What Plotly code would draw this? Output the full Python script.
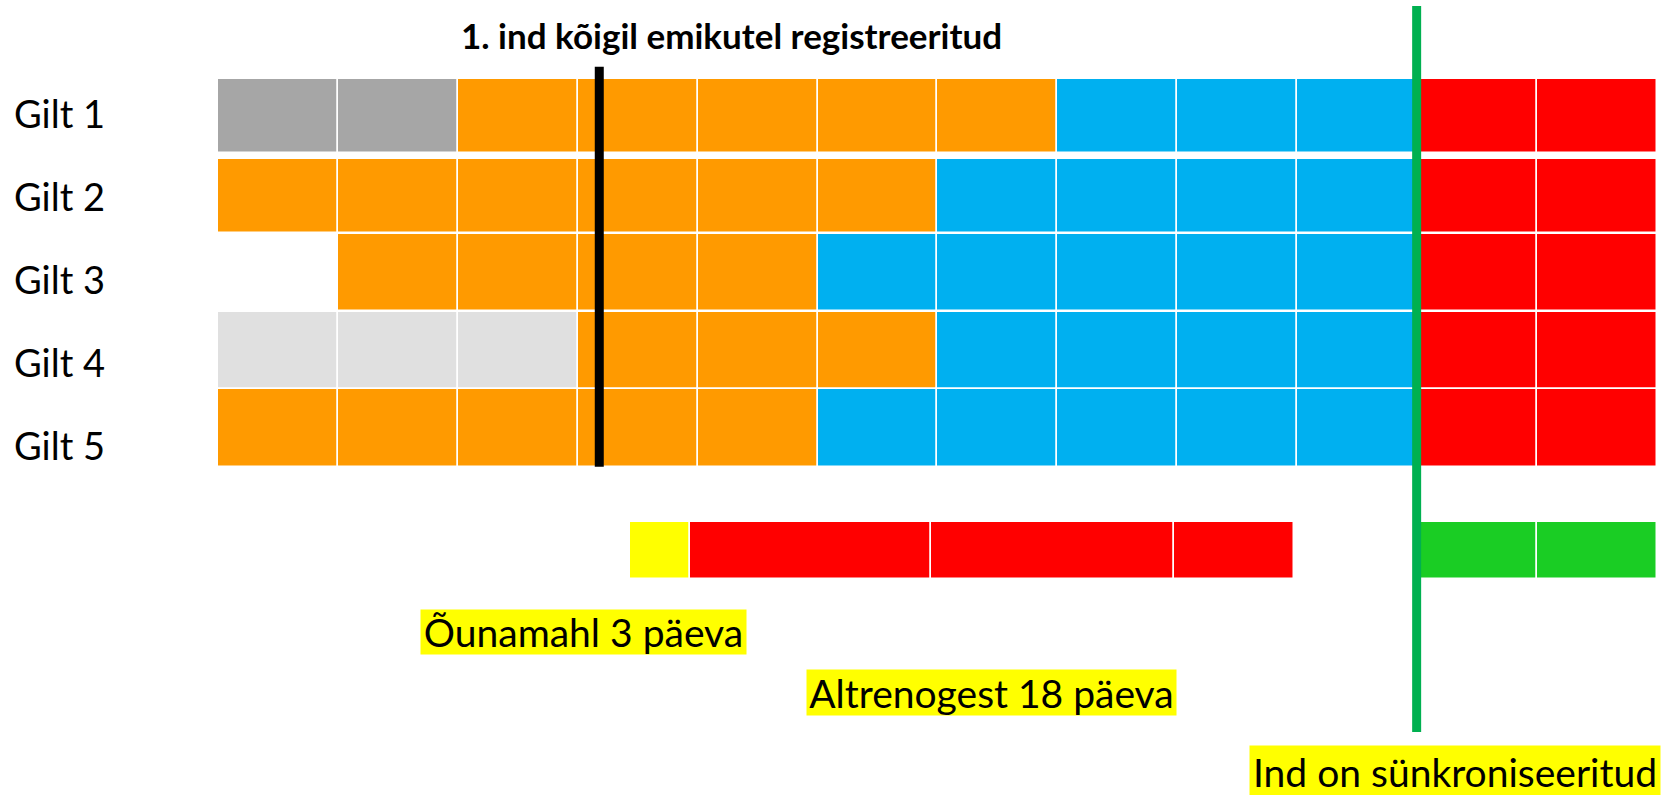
import plotly.graph_objects as go

# ---------------- data ----------------
gilts = ["Gilt 1", "Gilt 2", "Gilt 3", "Gilt 4", "Gilt 5"]

# state of each gilt in each of 12 consecutive periods (None = no record)
gilt1 = ["cycle_old", "cycle_old", "pre", "pre", "pre", "pre", "pre", "treat", "treat", "treat", "sync", "sync"]
gilt2 = ["pre", "pre", "pre", "pre", "pre", "pre", "treat", "treat", "treat", "treat", "sync", "sync"]
gilt3 = [None, "pre", "pre", "pre", "pre", "treat", "treat", "treat", "treat", "treat", "sync", "sync"]
gilt4 = ["cycle_new", "cycle_new", "cycle_new", "pre", "pre", "pre", "treat", "treat", "treat", "treat", "sync", "sync"]
gilt5 = ["pre", "pre", "pre", "pre", "pre", "treat", "treat", "treat", "treat", "treat", "sync", "sync"]
gilt_states = [gilt1, gilt2, gilt3, gilt4, gilt5]

state_colors = {
    "cycle_old": "#A6A6A6",
    "cycle_new": "#E0E0E0",
    "pre": "#FF9A00",
    "treat": "#00B0F0",
    "sync": "#FF0000",
}

# treatment timeline (in period units)
treat_names = ["Õunamahl", "Altrenogest", "Altrenogest", "Altrenogest", "Sünkroniseeritud", "Sünkroniseeritud"]
treat_start = [3.44, 3.94, 5.95, 7.97, 10.0, 11.0]
treat_len = [0.50, 2.01, 2.02, 1.00, 1.0, 1.0]
treat_colors = ["#FFFF00", "#FF0000", "#FF0000", "#FF0000", "#1ACD24", "#1ACD24"]

first_heat_x = 3.18   # 1. ind kõigil emikutel registreeritud
sync_x = 9.997        # ind on sünkroniseeritud

title_text = "1. ind kõigil emikutel registreeritud"
label_texts = ["Õunamahl 3 päeva", "Altrenogest 18 päeva", "Ind on sünkroniseeritud"]

# ---------------- layout helpers ----------------
FONT = "Lato"
ROW_Y = [1.0, 2.027, 3.006, 4.005, 5.0]
ROW_H = [0.955, 0.955, 0.995, 0.995, 0.995]
TREAT_Y = 6.566
TREAT_H = 0.74

fig = go.Figure()

for i, states in enumerate(gilt_states):
    for col, st in enumerate(states):
        if st is None:
            continue
        fig.add_trace(go.Bar(
            orientation="h", y=[ROW_Y[i]], x=[1], base=[col], width=ROW_H[i],
            marker=dict(color=state_colors[st], line=dict(color="white", width=1.5)),
            hoverinfo="skip", showlegend=False,
        ))

for s, w, c in zip(treat_start, treat_len, treat_colors):
    fig.add_trace(go.Bar(
        orientation="h", y=[TREAT_Y], x=[w], base=[s], width=TREAT_H,
        marker=dict(color=c, line=dict(color="white", width=1.5)),
        hoverinfo="skip", showlegend=False,
    ))

# vertical reference lines
fig.add_shape(type="line", xref="x", yref="y", x0=first_heat_x, x1=first_heat_x,
              y0=0.371, y1=5.493, line=dict(color="black", width=9))
fig.add_shape(type="line", xref="x", yref="y", x0=sync_x, x1=sync_x,
              y0=-0.406, y1=8.89, line=dict(color="#00B050", width=9))

# gilt labels
for i, g in enumerate(gilts):
    fig.add_annotation(x=-1.72, y=0.96 + i * 1.064, text=g, showarrow=False,
                       xanchor="left", yanchor="middle",
                       font=dict(family=FONT, size=38, color="black"))

# title
fig.add_annotation(x=4.28, y=-0.04, text="<b>" + title_text + "</b>", showarrow=False,
                   xanchor="center", yanchor="middle",
                   font=dict(family=FONT, size=35, color="black"))

# highlighted labels (box width/height in px)
label_pos = [(3.048, 7.611), (6.451, 8.386), (10.32, 9.40)]
label_box = [(325, 44), (369, 45), (410, 52)]
for t, (lx, ly), (bw, bh) in zip(label_texts, label_pos, label_box):
    fig.add_annotation(x=lx, y=ly, text=t, showarrow=False, xanchor="center", yanchor="middle",
                       width=bw, height=bh, align="center", valign="middle",
                       bgcolor="#FFFF00", borderpad=0,
                       font=dict(family=FONT, size=39, color="black"))

fig.update_layout(
    width=1673, height=795,
    margin=dict(l=0, r=0, t=0, b=0),
    plot_bgcolor="white", paper_bgcolor="white",
    barmode="overlay", bargap=0,
    xaxis=dict(range=[-1.818, 12.135], visible=False, fixedrange=True),
    yaxis=dict(range=[9.697, -0.483], visible=False, fixedrange=True),
)

fig.write_html("out.html", config={"displayModeBar": False},
               post_script="document.body.style.margin='0px';document.body.style.overflow='hidden';")
